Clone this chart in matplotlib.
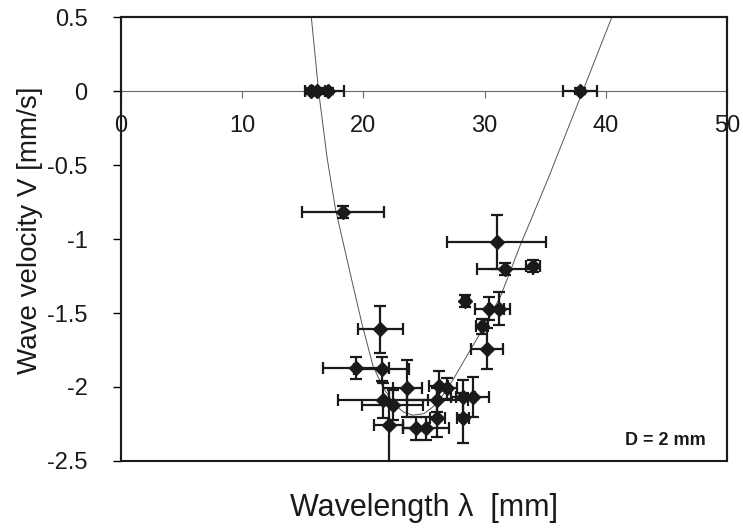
import matplotlib
matplotlib.use("Agg")
import matplotlib.pyplot as plt
from matplotlib.patches import Rectangle

plt.rcParams['font.family'] = ['Liberation Sans', 'DejaVu Sans']
plt.rcParams['axes.unicode_minus'] = False

# measured data
lam = [15.7, 16.2, 17.1, 37.9, 18.3, 21.4, 19.4, 21.5, 23.6, 21.6, 22.4, 22.1,
       24.3, 25.2, 26.1, 26.1, 26.2, 26.9, 28.2, 29.0, 28.2, 30.2, 29.8, 30.4,
       31.2, 28.4, 31.0, 31.7, 34.0]
vel = [0.0, 0.0, 0.0, 0.0, -0.82, -1.61, -1.87, -1.88, -2.01, -2.09, -2.12, -2.26,
       -2.28, -2.28, -2.21, -2.09, -1.99, -2.01, -2.07, -2.07, -2.21, -1.74, -1.59, -1.47,
       -1.47, -1.42, -1.02, -1.20, -1.18]
lam_err = [0.5, 0.6, 1.3, 1.4, 3.4, 1.85, 2.7, 2.3, 1.2, 3.7, 2.5, 1.2,
           1.0, 1.9, 0.6, 2.5, 0.8, 0.8, 1.0, 1.4, 0.5, 1.3, 0.5, 1.2,
           0.9, 0.3, 4.1, 2.3, 0.6]
vel_err = [0.02, 0.02, 0.02, 0.02, 0.04, 0.16, 0.075, 0.08, 0.19, 0.12, 0.10, 0.25,
           0.08, 0.08, 0.125, 0.08, 0.10, 0.07, 0.12, 0.135, 0.17, 0.14, 0.05, 0.08,
           0.11, 0.04, 0.18, 0.04, 0.04]

# fitted curve
curve_lam = [15.7, 16.3, 17.0, 17.7, 18.4, 19.1, 19.9, 20.8, 21.6, 22.5, 23.3, 24.1,
             25.0, 25.8, 26.6, 27.4, 28.6, 29.9, 31.3, 32.9, 35.2, 38.1, 40.5]
curve_vel = [0.5, 0.0, -0.45, -0.80, -1.05, -1.30, -1.58, -1.86, -2.00, -2.11, -2.17, -2.19,
             -2.18, -2.13, -2.05, -1.95, -1.78, -1.60, -1.39, -1.05, -0.60, 0.0, 0.5]

xticks = [0, 10, 20, 30, 40, 50]
yticks = [0.5, 0, -0.5, -1, -1.5, -2, -2.5]
ytick_labels = ['0.5', '0', '-0.5', '-1', '-1.5', '-2', '-2.5']

fig = plt.figure(figsize=(7.43, 5.30), dpi=100)
ax = fig.add_axes([0.1629, 0.1302, 0.8156, 0.8377])

ax.plot(curve_lam, curve_vel, color='#555555', lw=0.7, zorder=2)
ax.errorbar(lam, vel, xerr=lam_err, yerr=vel_err, fmt='D', color='#1a1a1a',
            ms=7, elinewidth=1.6, capsize=4, capthick=1.6, zorder=3)

ax.set_xlim(0, 50)
ax.set_ylim(-2.5, 0.5)

ax.spines['bottom'].set_position(('data', 0))
ax.spines['bottom'].set_color('#666666')
ax.spines['bottom'].set_linewidth(0.8)
for s in ['top', 'right', 'left']:
    ax.spines[s].set_linewidth(1.5)
    ax.spines[s].set_color('#1a1a1a')
ax.add_patch(Rectangle((0, 0), 1, 1, transform=ax.transAxes, fill=False,
                       lw=1.5, edgecolor='#1a1a1a', clip_on=False, zorder=5))

ax.set_xticks(xticks)
ax.set_yticks(yticks)
ax.set_yticklabels(ytick_labels)
ax.tick_params(axis='x', direction='out', length=5, width=0.8, color='#666666',
               pad=12, labelsize=17, labelcolor='#1a1a1a')
ax.tick_params(axis='y', direction='out', length=6, width=1.0,
               pad=18, labelsize=17, labelcolor='#1a1a1a')

ax.set_ylabel('Wave velocity V [mm/s]', fontsize=20, color='#1a1a1a')
ax.yaxis.set_label_coords(-0.128, 0.52)
ax.set_xlabel('Wavelength λ  [mm]', fontsize=22, color='#1a1a1a')
ax.xaxis.set_label_coords(0.5, -0.072)

ax.text(0.965, 0.028, 'D = 2 mm', transform=ax.transAxes, ha='right', va='bottom',
        fontsize=13, fontweight='bold', color='#1a1a1a')

fig.savefig('out.png', dpi=100)
